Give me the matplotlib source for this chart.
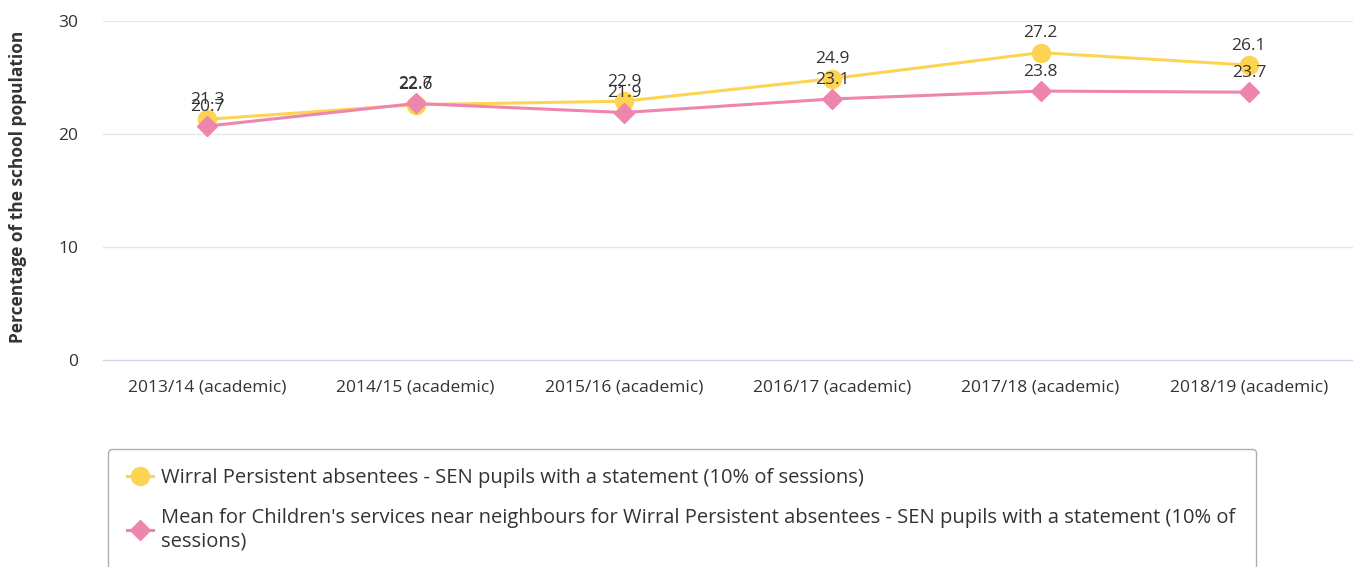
import matplotlib.pyplot as plt

plt.rcParams['font.family'] = ['Open Sans', 'DejaVu Sans']

# Academic years and persistent absentee rates (% of school population)
years = ['2013/14 (academic)', '2014/15 (academic)', '2015/16 (academic)',
         '2016/17 (academic)', '2017/18 (academic)', '2018/19 (academic)']
wirral = [21.3, 22.6, 22.9, 24.9, 27.2, 26.1]
neighbours = [20.7, 22.7, 21.9, 23.1, 23.8, 23.7]

wirral_name = 'Wirral Persistent absentees - SEN pupils with a statement (10% of sessions)'
neighbours_name = ("Mean for Children's services near neighbours for Wirral Persistent absentees - SEN pupils with a statement (10% of\n"
                   "sessions)")

yellow = '#fdd451'
pink = '#ee85ae'
text_col = '#333333'

fig = plt.figure(figsize=(13.53, 5.67), dpi=100)
ax = fig.add_axes([103 / 1353, 1 - 360 / 567, 1250 / 1353, 339 / 567])

x = range(len(years))
l1, = ax.plot(x, wirral, color=yellow, lw=2.2, marker='o', markersize=13,
              label=wirral_name, zorder=3)
l2, = ax.plot(x, neighbours, color=pink, lw=2.2, marker='D', markersize=10,
              label=neighbours_name, zorder=4)

# value labels above each point
for xi, v in zip(x, wirral):
    ax.annotate(f'{v}', (xi, v), xytext=(0, 14), textcoords='offset points',
                ha='center', va='center', fontsize=12.5, color=text_col, zorder=5)
for xi, v in zip(x, neighbours):
    ax.annotate(f'{v}', (xi, v), xytext=(0, 14), textcoords='offset points',
                ha='center', va='center', fontsize=12.5, color=text_col, zorder=5)

ax.set_xlim(-0.5, 5.5)
ax.set_ylim(0, 30)
ax.set_yticks([0, 10, 20, 30])
ax.set_xticks(list(x))
ax.set_xticklabels(years)
ax.grid(axis='y', color='#e6e6e6', lw=1)
ax.set_axisbelow(True)
for s in ['top', 'right', 'left']:
    ax.spines[s].set_visible(False)
ax.spines['bottom'].set_color('#ccd6eb')
ax.tick_params(axis='both', length=0, labelsize=12.5, colors=text_col)
ax.tick_params(axis='x', pad=14)
ax.tick_params(axis='y', pad=18)
ax.set_ylabel('Percentage of the school population', fontsize=12.5,
              fontweight='bold', color=text_col)
ax.yaxis.set_label_coords(-0.0605, 0.512)

leg = fig.legend(handles=[l1, l2], loc='upper left',
                 bbox_to_anchor=(108 / 1353, 1 - 449 / 567, 1148 / 1353, 0),
                 mode='expand', borderaxespad=0, fontsize=14.5, frameon=True,
                 fancybox=True, edgecolor='#999999', borderpad=0.95,
                 labelspacing=1.0, handlelength=1.3, handletextpad=0.4,
                 labelcolor=text_col)
leg.get_frame().set_linewidth(1)

fig.savefig('out.png', dpi=100)
